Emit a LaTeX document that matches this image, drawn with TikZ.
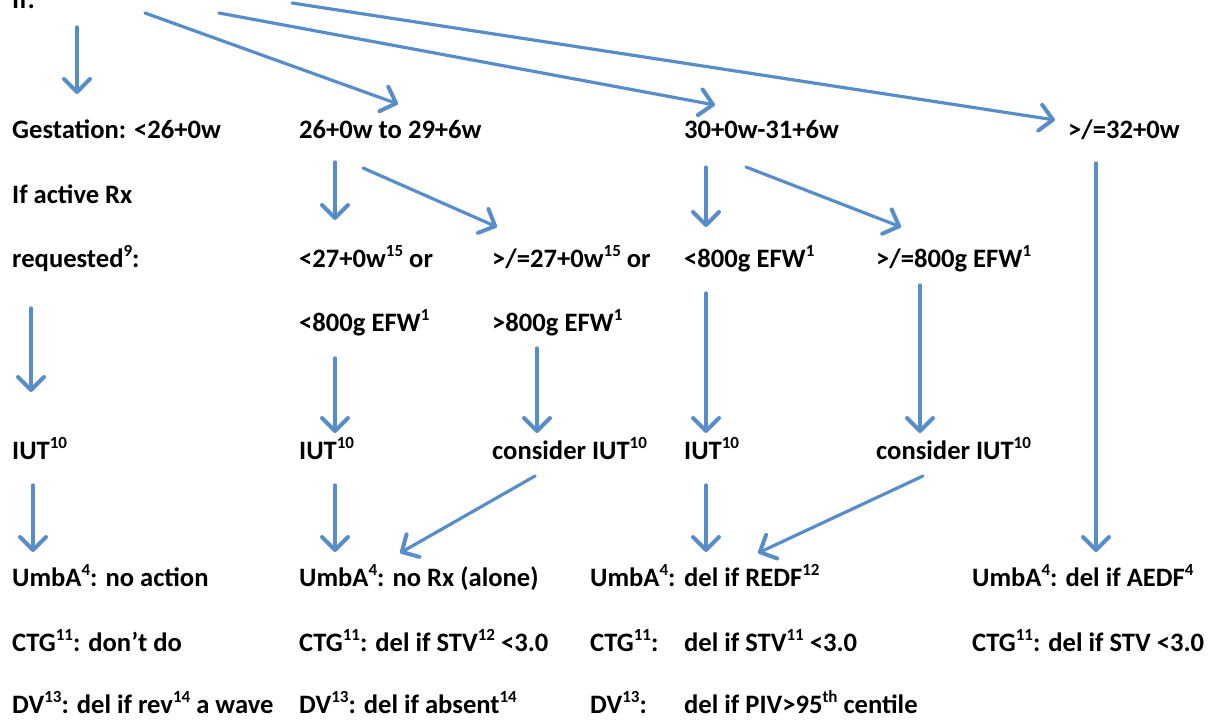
\documentclass[tikz,border=0pt]{standalone}
\usepackage{fontspec}
\setmainfont{Carlito}
\usetikzlibrary{arrows.meta}
\definecolor{arrblue}{RGB}{88,141,201}
\newcommand{\sps}[1]{\raisebox{0.38em}{\fontsize{17}{17}\selectfont #1}}
\begin{document}
\begin{tikzpicture}[x=1pt,y=-1pt,
  txt/.style={anchor=base west, inner sep=0pt, font=\fontsize{26.6}{30}\selectfont\bfseries},
  arr/.style={draw=arrblue, line width=3.2pt, line cap=round, -{Straight Barb[length=13pt,width=26pt,round,line width=4pt]}}]
\useasboundingbox (0,0) rectangle (1212,720);
% texts
\node[txt] (if) at (12,9) {If:};
\node[txt] (g1) at (12,138) {Gestation: <26+0w};
\node[txt] (b1) at (299,138) {26+0w to 29+6w};
\node[txt] (d1) at (684,138) {30+0w-31+6w};
\node[txt] (f1) at (1068,138) {>/=32+0w};
\node[txt] (a2) at (12,203) {If active Rx};
\node[txt] (a3) at (12,267) {requested\sps{9}:};
\node[txt] (b3) at (299,267) {<27+0w\sps{15} or};
\node[txt] (c3) at (492,267) {>/=27+0w\sps{15} or};
\node[txt] (d3) at (684,267) {<800g EFW\sps{1}};
\node[txt] (e3) at (876,267) {>/=800g EFW\sps{1}};
\node[txt] (b4) at (299,331) {<800g EFW\sps{1}};
\node[txt] (c4) at (492,331) {>800g EFW\sps{1}};
\node[txt] (a5) at (12,459) {IUT\sps{10}};
\node[txt] (b5) at (299,459) {IUT\sps{10}};
\node[txt] (c5) at (492,459) {consider IUT\sps{10}};
\node[txt] (d5) at (684,459) {IUT\sps{10}};
\node[txt] (e5) at (876,459) {consider IUT\sps{10}};
\node[txt] (a6) at (12,586) {UmbA\sps{4}: no action};
\node[txt] (b6) at (299,586) {UmbA\sps{4}: no Rx (alone)};
\node[txt] (d6) at (590,586) {UmbA\sps{4}:};
\node[txt] (d6b) at (684,586) {del if REDF\sps{12}};
\node[txt] (g6) at (972,586) {UmbA\sps{4}: del if AEDF\sps{4}};
\node[txt] (a7) at (12,651) {CTG\sps{11}: don’t do};
\node[txt] (b7) at (299,651) {CTG\sps{11}: del if STV\sps{12} <3.0};
\node[txt] (d7) at (590,651) {CTG\sps{11}:};
\node[txt] (d7b) at (684,651) {del if STV\sps{11} <3.0};
\node[txt] (g7) at (972,651) {CTG\sps{11}: del if STV <3.0};
\node[txt] (a8) at (12,713) {DV\sps{13}: del if rev\sps{14} a wave};
\node[txt] (b8) at (299,713) {DV\sps{13}: del if absent\sps{14}};
\node[txt] (d8) at (590,713) {DV\sps{13}:};
\node[txt] (d8b) at (684,713) {del if PIV>95\sps{th} centile};
% connector end points
\coordinate (s1) at (77,27);   \coordinate (t1) at (77,94);
\coordinate (s2) at (145,13);  \coordinate (t2) at (398,104);
\coordinate (s3) at (219,13);  \coordinate (t3) at (715,105);
\coordinate (s4) at (292,3);   \coordinate (t4) at (1055,120);
\coordinate (s5) at (31,308);  \coordinate (t5) at (31,392);
\coordinate (s6) at (33,485);  \coordinate (t6) at (33,552);
\coordinate (s7) at (335,162); \coordinate (t7) at (335,220);
\coordinate (s8) at (363,168); \coordinate (t8) at (497,227);
\coordinate (s9) at (335,358); \coordinate (t9) at (335,433);
\coordinate (s10) at (537,348); \coordinate (t10) at (537,433);
\coordinate (s11) at (335,485); \coordinate (t11) at (335,552);
\coordinate (s12) at (535,476); \coordinate (t12) at (400,553);
\coordinate (s13) at (706,167); \coordinate (t13) at (706,227);
\coordinate (s14) at (746,167); \coordinate (t14) at (901,227);
\coordinate (s15) at (706,293); \coordinate (t15) at (706,433);
\coordinate (s16) at (920,285); \coordinate (t16) at (920,433);
\coordinate (s17) at (706,485); \coordinate (t17) at (706,552);
\coordinate (s18) at (923,476); \coordinate (t18) at (758,553);
\coordinate (s19) at (1096,163); \coordinate (t19) at (1096,552);
\foreach \i in {1,...,19} {\draw[arr] (s\i) -- (t\i);}
\end{tikzpicture}
\end{document}
